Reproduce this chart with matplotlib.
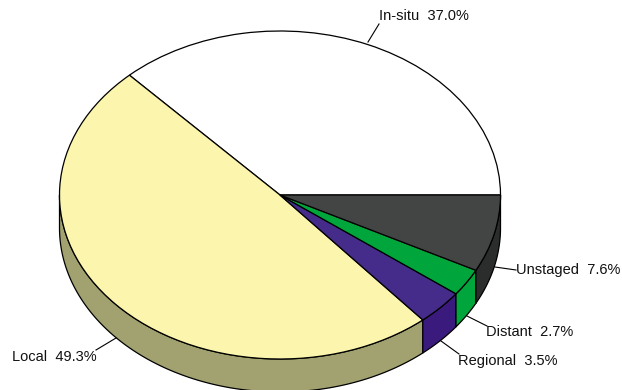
import numpy as np
import matplotlib
matplotlib.use("Agg")
import matplotlib.pyplot as plt

plt.rcParams['font.family'] = ['Liberation Sans', 'DejaVu Sans']

W, H = 622, 390
CX, CY, RX, RY, DEPTH = 280, 195, 220.5, 164, 33

stages = ["In-situ", "Local", "Regional", "Distant", "Unstaged"]
shares = [37.0, 49.3, 3.5, 2.7, 7.6]
top_colors = ["#ffffff", "#fbf5ad", "#452c8a", "#00a53c", "#434544"]
side_colors = ["#ffffff", "#a1a26f", "#3b1a7e", "#00a53c", "#2b2d2c"]
# label anchor (px) and leader line ends (px)
label_pos = [(379, 16), (12, 357), (458, 361), (486, 332), (516, 270)]
leaders = [((368, 42), (379, 24)), ((116, 338), (96, 350)),
           ((441, 341), (459, 354)), ((467, 316), (487, 326)), ((495, 267), (516, 270))]

fig = plt.figure(figsize=(W / 100, H / 100), dpi=100)
ax = fig.add_axes([0, 0, 1, 1])


def px(x, y):
    return (x - CX) / RX, (CY - y) / RY


# side wall, drawn from the same shares
d = DEPTH / RY
edges = np.cumsum([0] + shares) / sum(shares) * 360
for i, (a0, a1) in enumerate(zip(edges[:-1], edges[1:])):
    lo, hi = max(a0, 180), min(a1, 360)
    if hi <= lo:
        continue
    t = np.radians(np.linspace(lo, hi, 120))
    xs = np.concatenate([np.cos(t), np.cos(t[::-1])])
    ys = np.concatenate([np.sin(t), np.sin(t[::-1]) - d])
    ax.fill(xs, ys, facecolor=side_colors[i], edgecolor="black", lw=0.9, zorder=1, joinstyle="round")

ax.pie(shares, colors=top_colors, startangle=0, counterclock=True, radius=1,
       wedgeprops=dict(edgecolor="black", linewidth=0.9, zorder=2))
ax.set_aspect("auto")
ax.set_xlim(px(0, 0)[0], px(W, 0)[0])
ax.set_ylim(px(0, H)[1], px(0, 0)[1])
ax.axis("off")

for name, val, (lx, ly), (p0, p1) in zip(stages, shares, label_pos, leaders):
    a, b = px(*p0), px(*p1)
    ax.plot([a[0], b[0]], [a[1], b[1]], color="black", lw=0.8, zorder=3, clip_on=False)
    tx, ty = px(lx, ly)
    ax.text(tx, ty, f"{name}  {val:.1f}%", fontsize=10.5, color="#111111", ha="left", va="center", zorder=4)

fig.savefig("out.png", dpi=100)
